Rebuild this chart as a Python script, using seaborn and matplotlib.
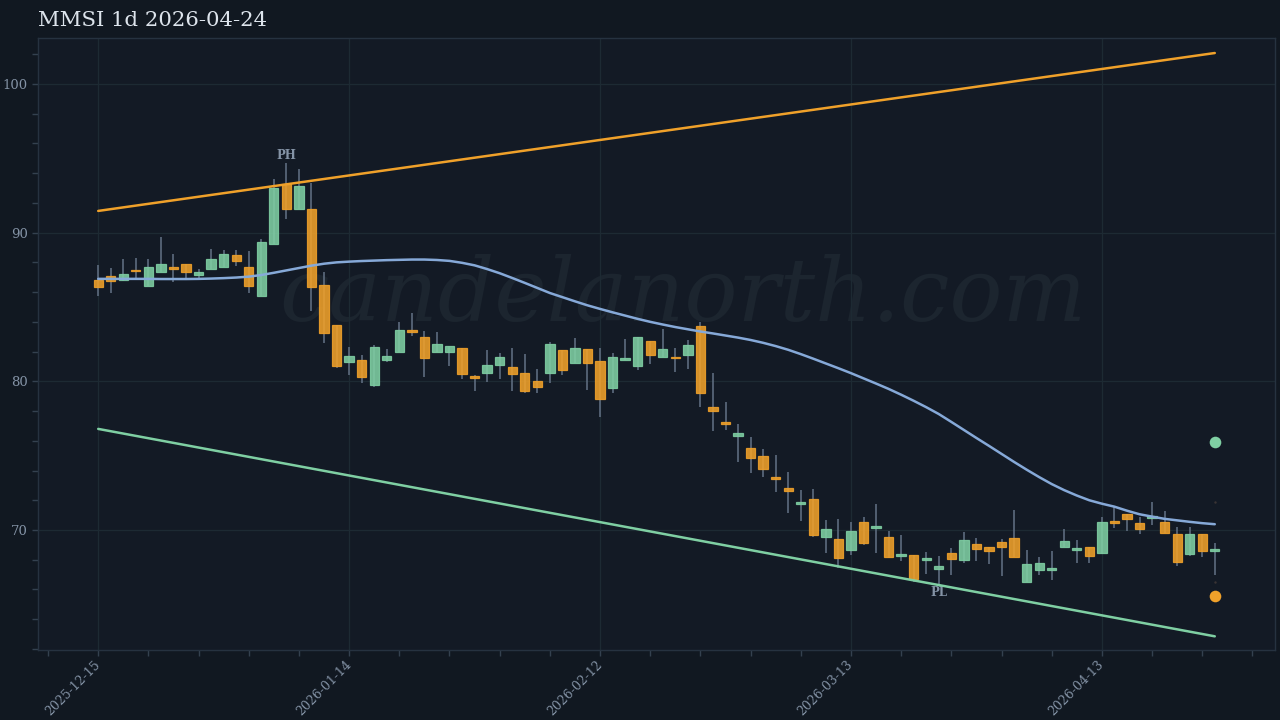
import numpy as np
import pandas as pd
import matplotlib
matplotlib.use("Agg")
import matplotlib.pyplot as plt
import seaborn as sns
from matplotlib.ticker import FixedLocator, MultipleLocator

# ---------------- data ----------------
opens = [86.82, 87.09, 86.80, 87.51, 86.44, 87.33, 87.69, 87.92, 87.16, 87.56,
         87.69, 88.52, 87.67, 85.74, 89.26, 93.25, 91.57, 91.57, 86.50, 83.79,
         81.28, 81.42, 79.74, 81.44, 81.96, 83.46, 82.96, 81.96, 82.00, 82.27,
         80.36, 80.54, 81.10, 80.99, 80.59, 80.00, 80.59, 82.09, 81.22, 82.16,
         81.40, 79.58, 81.42, 81.04, 82.69, 81.66, 81.66, 81.75, 83.75, 78.26,
         77.27, 76.35, 75.50, 74.98, 73.59, 72.81, 71.75, 72.09, 69.51, 69.42,
         68.66, 70.52, 70.12, 69.56, 68.24, 68.30, 67.97, 67.41, 68.44, 67.99,
         69.04, 68.86, 69.16, 69.45, 66.49, 67.32, 67.34, 68.89, 68.66, 68.89,
         68.44, 70.61, 71.08, 70.46, 70.82, 70.57, 69.74, 68.37, 69.72, 68.60]
highs = [87.83, 87.63, 88.23, 88.30, 88.23, 89.69, 88.55, 87.92, 87.54, 88.93,
         88.81, 88.81, 88.77, 89.58, 93.61, 94.71, 94.26, 93.36, 87.33, 83.79,
         82.29, 81.75, 82.45, 82.20, 83.97, 84.58, 83.39, 83.30, 82.38, 82.27,
         80.41, 82.11, 81.89, 82.25, 81.84, 80.83, 82.65, 82.09, 82.90, 82.16,
         82.25, 81.89, 82.83, 82.99, 82.69, 83.52, 82.27, 82.78, 84.02, 80.59,
         78.61, 77.14, 76.28, 75.43, 75.03, 73.93, 72.70, 72.74, 70.68, 70.72,
         70.52, 70.86, 71.73, 69.94, 69.67, 68.30, 68.50, 68.26, 68.80, 69.87,
         69.49, 68.86, 69.38, 71.37, 68.68, 68.21, 68.59, 70.10, 69.33, 68.89,
         70.86, 71.53, 71.08, 70.90, 71.87, 71.26, 70.19, 70.19, 69.72, 69.11]
lows = [85.77, 85.97, 86.78, 86.93, 86.44, 87.33, 86.71, 86.93, 86.93, 87.56,
        87.69, 87.76, 85.97, 85.74, 89.26, 90.90, 91.57, 84.73, 82.56, 80.88,
        80.43, 79.87, 79.65, 81.28, 81.96, 83.07, 80.32, 81.96, 81.04, 80.16,
        79.38, 79.98, 80.18, 79.38, 79.24, 79.20, 79.91, 80.43, 81.22, 79.42,
        77.61, 79.22, 81.42, 80.77, 81.17, 81.66, 80.65, 80.83, 78.30, 76.69,
        76.75, 74.58, 73.86, 73.59, 72.58, 71.13, 70.63, 69.56, 68.44, 67.43,
        68.33, 69.02, 68.44, 68.15, 67.94, 66.53, 67.03, 66.31, 66.98, 67.81,
        67.92, 67.70, 66.91, 68.21, 66.49, 66.98, 66.64, 68.89, 67.77, 67.77,
        68.39, 70.12, 69.90, 69.74, 70.34, 69.78, 67.61, 68.24, 68.21, 66.98]
closes = [86.37, 86.77, 87.20, 87.42, 87.69, 87.89, 87.58, 87.33, 87.38, 88.21,
          88.54, 88.10, 86.42, 89.37, 93.01, 91.59, 93.14, 86.33, 83.23, 81.04,
          81.73, 80.32, 82.29, 81.69, 83.43, 83.34, 81.60, 82.54, 82.38, 80.48,
          80.21, 81.08, 81.62, 80.48, 79.33, 79.60, 82.49, 80.79, 82.22, 81.26,
          78.82, 81.66, 81.57, 82.99, 81.80, 82.20, 81.55, 82.43, 79.20, 77.99,
          77.14, 76.51, 74.83, 74.13, 73.46, 72.63, 71.89, 69.67, 70.07, 68.15,
          69.96, 69.15, 70.26, 68.21, 68.37, 66.69, 68.15, 67.56, 68.08, 69.31,
          68.71, 68.62, 68.89, 68.21, 67.70, 67.81, 67.43, 69.25, 68.79, 68.24,
          70.57, 70.50, 70.72, 70.10, 70.95, 69.78, 67.83, 69.74, 68.60, 68.71]

# smooth trend line (one value per bar)
trend = [86.89, 86.89, 86.89, 86.89, 86.89, 86.88, 86.88, 86.88, 86.89, 86.91,
         86.94, 86.98, 87.04, 87.15, 87.30, 87.46, 87.62, 87.78, 87.91, 88.00,
         88.05, 88.09, 88.12, 88.15, 88.17, 88.19, 88.19, 88.16, 88.10, 87.97,
         87.80, 87.55, 87.27, 86.95, 86.62, 86.28, 85.94, 85.66, 85.38, 85.11,
         84.87, 84.64, 84.42, 84.20, 84.00, 83.82, 83.65, 83.50, 83.35, 83.22,
         83.08, 82.94, 82.78, 82.59, 82.37, 82.12, 81.83, 81.52, 81.20, 80.88,
         80.55, 80.20, 79.85, 79.49, 79.10, 78.69, 78.26, 77.80, 77.27, 76.73,
         76.19, 75.66, 75.12, 74.58, 74.06, 73.56, 73.09, 72.68, 72.32, 72.00,
         71.77, 71.57, 71.30, 71.06, 70.90, 70.75, 70.65, 70.55, 70.46, 70.39]

channel_x = [0, 89]
upper_channel = [91.46, 102.08]
lower_channel = [76.80, 62.85]

tick_pos = [0, 20, 40, 60, 80]
tick_labels = ["2025-12-15", "2026-01-14", "2026-02-12", "2026-03-13", "2026-04-13"]

pivot_labels = ["PH", "PL"]
pivot_idx = [15, 67]

target_up = 75.93
target_down = 65.57
title = "MMSI 1d 2026-04-24"
watermark = "candelanorth.com"

# ---------------- style ----------------
BG = "#111821"
AX_BG = "#131a25"
ORANGE = "#f0a12a"
GREEN = "#7fcfa3"
BLUE = "#86a9d8"
WICK = "#5d6b7e"
TXT = "#8493a6"
GRID = "#1d2a33"

sns.set_theme(style="dark")
plt.rcParams["font.family"] = ["DejaVu Serif"]

fig = plt.figure(figsize=(12.8, 7.2), dpi=100, facecolor=BG)
ax = fig.add_axes([38 / 1280, 1 - 650 / 720, (1275 - 38) / 1280, (650 - 38) / 720])
ax.set_facecolor(AX_BG)

n = len(opens)
x = np.arange(n)
df = pd.DataFrame({"x": x, "open": opens, "high": highs, "low": lows,
                   "close": closes, "trend": trend})
up = df["close"] >= df["open"]

# watermark
ax.text(0.521, 0.538, watermark, transform=ax.transAxes, ha="center", va="baseline",
        fontsize=63.5, style="italic", color="#1c252f", family="DejaVu Serif", zorder=0)

# wicks
ax.vlines(df["x"], df["low"], df["high"], color=WICK, linewidth=1.2, zorder=2)

# bodies
for mask, col in [(up, GREEN), (~up, ORANGE)]:
    sub = df[mask]
    bottom = np.minimum(sub["open"], sub["close"])
    height = np.abs(sub["close"] - sub["open"])
    ax.bar(sub["x"], height, bottom=bottom, width=0.74, color=col, alpha=0.88,
           edgecolor=col, linewidth=0.9, zorder=3)

# channel lines
ch = pd.DataFrame({"x": channel_x, "upper": upper_channel, "lower": lower_channel})
sns.lineplot(data=ch, x="x", y="upper", ax=ax, color=ORANGE, linewidth=1.8, zorder=4)
sns.lineplot(data=ch, x="x", y="lower", ax=ax, color=GREEN, linewidth=1.8, zorder=4)

# trend line
sns.lineplot(data=df, x="x", y="trend", ax=ax, color=BLUE, linewidth=1.8, zorder=5)

# target dots
ax.scatter([n - 1], [target_up], s=70, color=GREEN, zorder=6, linewidths=0)
ax.scatter([n - 1], [target_down], s=70, color=ORANGE, zorder=6, linewidths=0)
ax.scatter([n - 1, n - 1], [71.87, 66.51], s=3, color="#3a3434", zorder=6, linewidths=0)

# pivot labels
ax.text(pivot_idx[0], highs[pivot_idx[0]] + 0.05, pivot_labels[0], ha="center",
        va="bottom", fontsize=8.5, fontweight="bold", color=TXT)
ax.text(pivot_idx[1], lows[pivot_idx[1]] - 0.1, pivot_labels[1], ha="center",
        va="top", fontsize=8.5, fontweight="bold", color=TXT)

# axes
ax.set_xlim(-4.8, 93.8)
ax.set_ylim(61.93, 103.09)
ax.set_xlabel("")
ax.set_ylabel("")
ax.xaxis.set_major_locator(FixedLocator(tick_pos))
ax.set_xticklabels(tick_labels, rotation=45, ha="right", va="center",
                   rotation_mode="anchor")
ax.xaxis.set_minor_locator(MultipleLocator(4))
ax.yaxis.set_major_locator(MultipleLocator(10))
ax.yaxis.set_minor_locator(MultipleLocator(2))
ax.tick_params(axis="both", which="both", colors="#34414f", labelcolor=TXT,
               labelsize=9.5, length=4, width=1, bottom=True, left=True)
ax.tick_params(axis="x", which="major", labelsize=9.0, pad=5)
ax.grid(True, which="major", color=GRID, linewidth=0.9)
ax.grid(False, which="minor")
for s in ax.spines.values():
    s.set_visible(True)
    s.set_color("#263240")
    s.set_linewidth(1)

fig.text(38 / 1280, 1 - 21 / 720, title, ha="left", va="center", fontsize=15.3,
         color="#dde4ec", family="DejaVu Serif")

fig.savefig("out.png", dpi=100, facecolor=BG)
